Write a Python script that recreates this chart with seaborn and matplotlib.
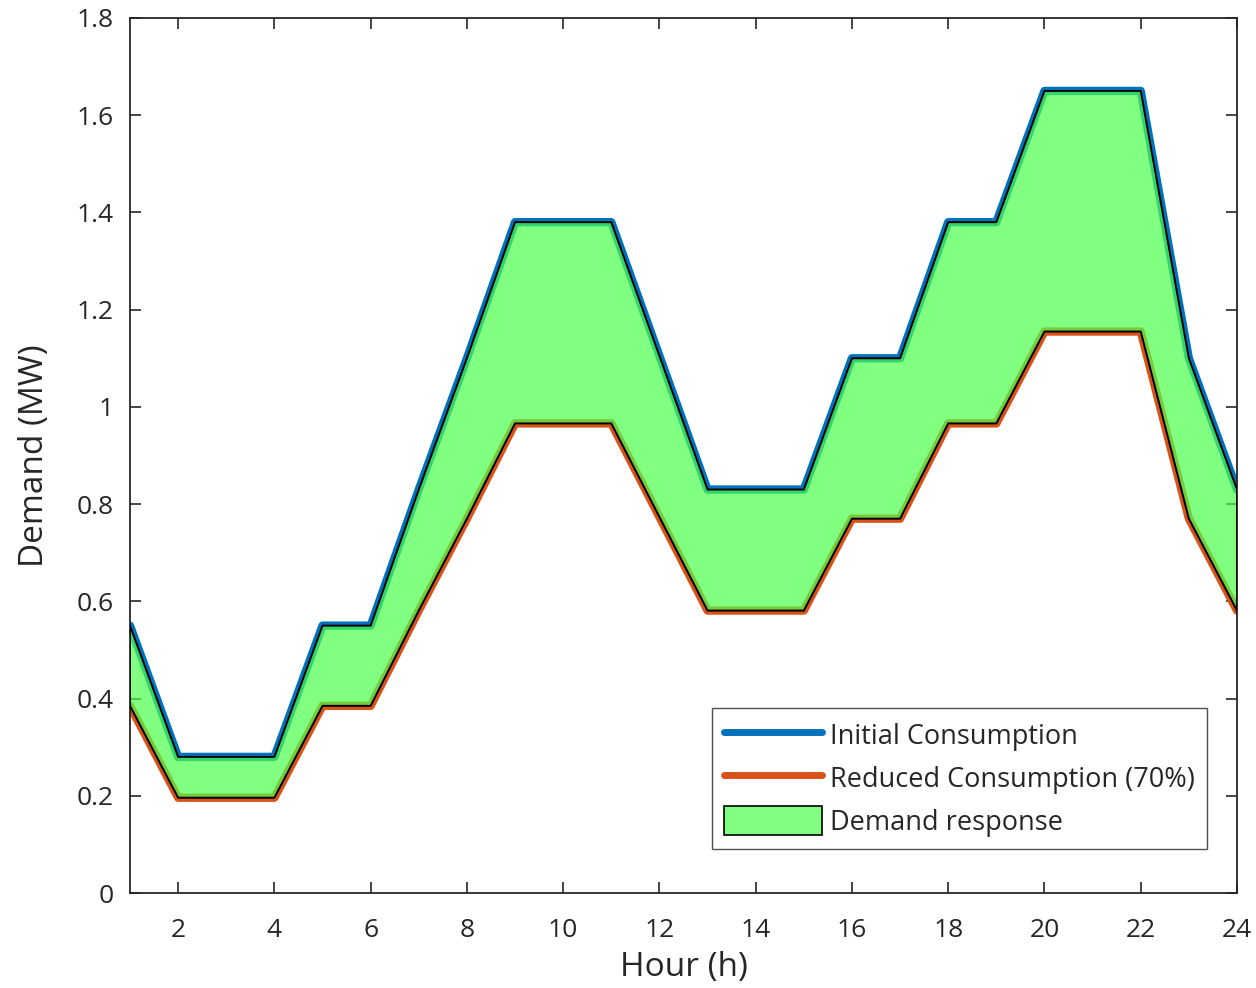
import matplotlib
matplotlib.use("Agg")
import matplotlib.pyplot as plt
import seaborn as sns
import numpy as np
import pandas as pd
from matplotlib.patches import Patch
from matplotlib.lines import Line2D

hours = list(range(1, 25))
initial = [0.55, 0.28, 0.28, 0.28, 0.55, 0.55, 0.83, 1.10, 1.38, 1.38, 1.38, 1.105,
           0.83, 0.83, 0.83, 1.10, 1.10, 1.38, 1.38, 1.65, 1.65, 1.65, 1.10, 0.83]
reduced = [round(v * 0.7, 4) for v in initial]

xticks = [2, 4, 6, 8, 10, 12, 14, 16, 18, 20, 22, 24]
yticks = [0, 0.2, 0.4, 0.6, 0.8, 1.0, 1.2, 1.4, 1.6, 1.8]
ytick_labels = ["0", "0.2", "0.4", "0.6", "0.8", "1", "1.2", "1.4", "1.6", "1.8"]

sns.set_style("ticks")
plt.rcParams['font.family'] = ['Open Sans', 'DejaVu Sans']

df = pd.DataFrame({"Hour": hours, "Initial": initial, "Reduced": reduced})

fig = plt.figure(figsize=(12.56, 9.88), dpi=100)
ax = fig.add_axes([130/1256, 1 - 893/988, (1237-130)/1256, (893-18)/988])

blue = "#0072BD"
orange = "#D95319"
green = "#80FF80"
fill_green = "#4AFF4A"

sns.lineplot(data=df, x="Hour", y="Initial", ax=ax, color=blue, linewidth=6, zorder=2)
sns.lineplot(data=df, x="Hour", y="Reduced", ax=ax, color=orange, linewidth=6, zorder=2)
ax.fill_between(df["Hour"], df["Reduced"], df["Initial"], facecolor=fill_green, alpha=0.7,
                edgecolor="none", zorder=3)
ax.fill_between(df["Hour"], df["Reduced"], df["Initial"], facecolor="none",
                edgecolor="black", linewidth=1.4, zorder=4)

ax.set_xlim(1, 24)
ax.set_ylim(0, 1.8)
ax.set_xticks(xticks)
ax.set_yticks(yticks)
ax.set_yticklabels(ytick_labels)
ax.tick_params(direction="in", length=8, width=1.2, labelsize=19, colors="#262626",
               top=True, right=True)
ax.tick_params(axis="x", pad=18)
ax.tick_params(axis="y", pad=12)
for s in ax.spines.values():
    s.set_visible(True)
    s.set_linewidth(1.3)
    s.set_color("#262626")
ax.set_xlabel("Hour (h)", fontsize=24, color="#262626", labelpad=6)
ax.set_ylabel("Demand (MW)", fontsize=24, color="#262626", labelpad=18)

handles = [Line2D([0], [0], color=blue, linewidth=5),
           Line2D([0], [0], color=orange, linewidth=5),
           Patch(facecolor=green, edgecolor="black", linewidth=1.2)]
labels = ["Initial Consumption", "Reduced Consumption (70%)", "Demand response"]
leg = ax.legend(handles, labels, loc="lower right", bbox_to_anchor=(0.973, 0.0503),
                fontsize=19.5, frameon=True, fancybox=False, edgecolor="#262626",
                handlelength=3.6, handleheight=1.3, borderpad=0.45, labelspacing=0.45,
                handletextpad=0.3, borderaxespad=0)
leg.get_frame().set_linewidth(1.0)

fig.savefig("out.png", dpi=100)
